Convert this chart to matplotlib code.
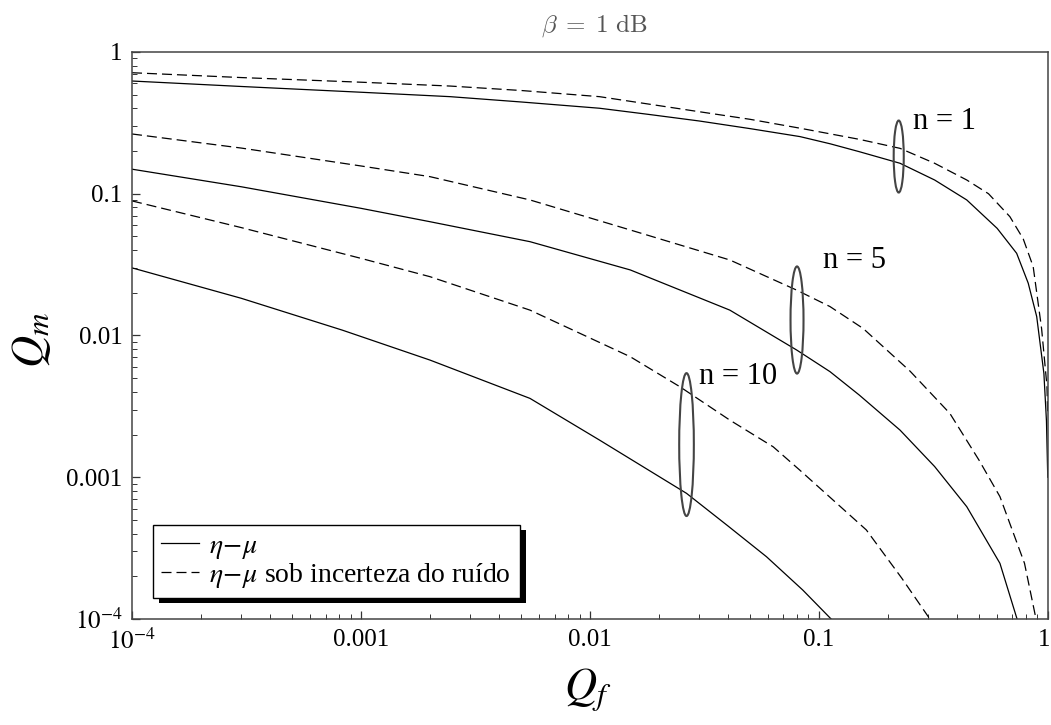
import matplotlib
matplotlib.use("Agg")
import matplotlib.pyplot as plt
import matplotlib.transforms as mtransforms
from matplotlib.patches import Ellipse, Rectangle
from matplotlib.lines import Line2D
from matplotlib.ticker import FixedLocator, FixedFormatter, LogLocator, NullFormatter

plt.rcParams["font.family"] = ["Liberation Serif", "DejaVu Serif"]
plt.rcParams["mathtext.fontset"] = "stix"

# Q_f / Q_m pontos (beta = 1 dB)
n1_x = [1e-4, 3e-4, 1e-3, 0.00245, 0.005, 0.011, 0.018, 0.03, 0.05, 0.0826, 0.112, 0.15,
        0.226, 0.32, 0.442, 0.6, 0.73, 0.82, 0.893, 0.96, 0.985, 0.998]
n1_y = [0.624, 0.571, 0.52, 0.484, 0.444, 0.401, 0.363, 0.326, 0.288, 0.253, 0.225, 0.198,
        0.164, 0.125, 0.0904, 0.057, 0.038, 0.0234, 0.0136, 0.0054, 0.0025, 0.001]

n1d_x = [1e-4, 3e-4, 1e-3, 0.00245, 0.005, 0.011, 0.03, 0.05, 0.0826, 0.15, 0.226, 0.32,
         0.442, 0.55, 0.682, 0.78, 0.862, 0.938, 0.99, 0.998]
n1d_y = [0.714, 0.66, 0.612, 0.575, 0.535, 0.484, 0.379, 0.335, 0.290, 0.242, 0.209, 0.164,
         0.125, 0.1, 0.0689, 0.048, 0.0306, 0.0112, 0.0044, 0.0027]

n5_x = [1e-4, 3e-4, 1e-3, 0.002, 0.00547, 0.015, 0.0408, 0.0799, 0.1117, 0.15, 0.226,
        0.32, 0.442, 0.617, 0.733]
n5_y = [0.149, 0.112, 0.0789, 0.0635, 0.0459, 0.0290, 0.0151, 0.0079, 0.00556, 0.0038,
        0.00215, 0.00119, 6.2e-4, 2.47e-4, 1e-4]

n5d_x = [1e-4, 3e-4, 1e-3, 0.002, 0.00547, 0.015, 0.0408, 0.0799, 0.1117, 0.156, 0.25,
         0.373, 0.5, 0.617, 0.79, 0.887]
n5d_y = [0.264, 0.21, 0.157, 0.132, 0.0904, 0.0555, 0.0341, 0.0209, 0.0160, 0.0112, 0.0056,
         0.00282, 0.00132, 7.3e-4, 2.47e-4, 1e-4]

n10_x = [1e-4, 3e-4, 8.3e-4, 0.002, 0.00547, 0.011, 0.0264, 0.04, 0.059, 0.085, 0.113]
n10_y = [0.030, 0.0183, 0.0109, 0.00671, 0.0036, 0.00183, 7.7e-4, 4.54e-4, 2.75e-4, 1.6e-4, 1e-4]

n10d_x = [1e-4, 3e-4, 1e-3, 0.002, 0.00547, 0.015, 0.0247, 0.0408, 0.0631, 0.0826, 0.161,
          0.23, 0.305]
n10d_y = [0.089, 0.0577, 0.035, 0.026, 0.0151, 0.00708, 0.00435, 0.00253, 0.00164, 0.00112,
          4.25e-4, 1.94e-4, 1e-4]

tick_vals = [1e-4, 1e-3, 1e-2, 1e-1, 1]
tick_labels = [r"$10^{-4}$", "0.001", "0.01", "0.1", "1"]

# rótulos n = ... e elipses (centro em coordenadas de dados)
n_labels = ["n = 1", "n = 5", "n = 10"]
label_pos = [(0.2576, 0.322), (0.1038, 0.0337), (0.030, 0.00512)]
ellipse_centers = [(0.223, 0.183), (0.0802, 0.01286), (0.0264, 0.0017)]
ellipse_sizes = [(0.011, 0.127), (0.0142, 0.189), (0.016, 0.252)]

fig = plt.figure(figsize=(10.51, 7.25), dpi=100)
ax = fig.add_axes([0.1256, 0.1462, 0.8715, 0.7821])

dash = (8, 4)
lw = 0.9
ax.plot(n1_x, n1_y, color="black", lw=lw)
ax.plot(n1d_x, n1d_y, color="black", lw=lw, dashes=dash)
ax.plot(n5_x, n5_y, color="black", lw=lw)
ax.plot(n5d_x, n5d_y, color="black", lw=lw, dashes=dash)
ax.plot(n10_x, n10_y, color="black", lw=lw)
ax.plot(n10d_x, n10d_y, color="black", lw=lw, dashes=dash)

ax.set_xscale("log")
ax.set_yscale("log")
ax.set_xlim(1e-4, 1)
ax.set_ylim(1e-4, 1)

for axis in (ax.xaxis, ax.yaxis):
    axis.set_major_locator(FixedLocator(tick_vals))
    axis.set_major_formatter(FixedFormatter(tick_labels))
    axis.set_minor_locator(LogLocator(base=10, subs=range(2, 10), numticks=20))
    axis.set_minor_formatter(NullFormatter())

ax.tick_params(which="both", direction="in", top=False, right=False, colors="#333333",
               labelcolor="black", labelsize=18, pad=7)
ax.tick_params(which="major", length=6, width=0.9)
ax.tick_params(which="minor", length=3.5, width=0.7)
for sp in ax.spines.values():
    sp.set_color("#444444")
    sp.set_linewidth(1.1)

# o "1" da direita fica um pouco para dentro
last = ax.get_xticklabels()[-1]
last.set_transform(last.get_transform() + mtransforms.ScaledTranslation(-3 / 72, 0, fig.dpi_scale_trans))

# elipses e textos
to_axes = ax.transData + ax.transAxes.inverted()
for (cx, cy), (w, h) in zip(ellipse_centers, ellipse_sizes):
    ex, ey = to_axes.transform((cx, cy))
    ax.add_patch(Ellipse((ex, ey), w, h, transform=ax.transAxes, fill=False,
                         edgecolor="#444444", lw=1.5, zorder=3))
for txt, (tx, ty) in zip(n_labels, label_pos):
    ax.text(tx, ty, txt, fontsize=22, ha="left", va="center")

# legenda com sombra preta
handles = [Line2D([], [], color="black", lw=lw),
           Line2D([], [], color="black", lw=lw, dashes=dash)]
labels = [r"$\eta\!-\!\mu$", r"$\eta\!-\!\mu$ sob incerteza do ruído"]
leg = ax.legend(handles, labels, loc="lower left", bbox_to_anchor=(0.023, 0.037),
                borderaxespad=0, fontsize=20, frameon=True, fancybox=False,
                edgecolor="black", framealpha=1, handlelength=1.35,
                handletextpad=0.38, labelspacing=0.0, borderpad=0.3)
leg.get_frame().set_linewidth(1.0)
leg.set_zorder(6)

fig.canvas.draw()
bb = leg.get_window_extent()
inv = fig.transFigure.inverted()
(x0, y0), (x1, y1) = inv.transform([(bb.x0 + 6, bb.y0 - 5), (bb.x1 + 6, bb.y1 - 5)])
ax.add_patch(Rectangle((x0, y0), x1 - x0, y1 - y0, transform=fig.transFigure,
                       facecolor="black", edgecolor="none", zorder=5, clip_on=False))

# titulo e eixos
fig.text(0.565, 0.964, r"$\beta\;=\;1\ \mathrm{dB}$", math_fontfamily="cm",
         fontsize=18, color="#555555", ha="center", va="center")
fig.text(0.030, 1 - 340 / 725, r"$Q_m$", rotation=90, fontsize=32, ha="center", va="center")
fig.text(588 / 1051, 1 - 690 / 725, r"$Q_f$", fontsize=32, ha="center", va="center")

fig.savefig("out.png", dpi=100)
